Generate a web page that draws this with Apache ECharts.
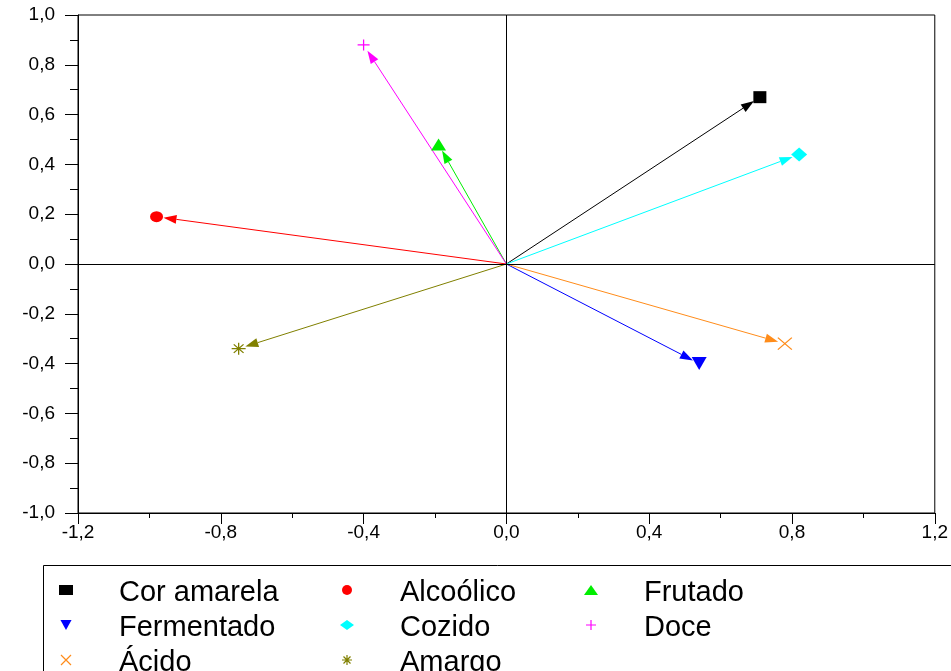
<!DOCTYPE html>
<html>
<head>
<meta charset="utf-8">
<script src="https://cdn.jsdelivr.net/npm/echarts@6/dist/echarts.min.js"></script>
<style>
  html, body { margin: 0; padding: 0; background: #fff; }
  #chart { width: 951px; height: 671px; }
</style>
</head>
<body>
<div id="chart"></div>
<script>
// Loadings of the sensory attributes on the first two principal components
const attributes = ['Cor amarela', 'Alcoólico', 'Frutado', 'Fermentado', 'Cozido', 'Doce', 'Ácido', 'Amargo'];
const comp1 = [0.71, -0.98, -0.19, 0.54, 0.82, -0.40, 0.78, -0.75];
const comp2 = [0.67, 0.19, 0.48, -0.40, 0.44, 0.88, -0.32, -0.34];

// Legend columns (row-major order in the box)
const legendCol1 = ['Cor amarela', 'Fermentado', 'Ácido'];
const legendCol2 = ['Alcoólico', 'Cozido', 'Amargo'];
const legendCol3 = ['Frutado', 'Doce'];

// Axis tick settings
const axisMin = -1.2, axisMax = 1.2, xStep = 0.4;
const yMin = -1.0, yMax = 1.0, yStep = 0.2;

// Marker appearance for each attribute
const styles = {
  'Cor amarela': { color: '#000000', symbol: 'rect', size: [13, 12], filled: true },
  'Alcoólico':   { color: '#ff0000', symbol: 'circle', size: [13, 11], filled: true },
  'Frutado':     { color: '#00ee00', symbol: 'triangle', size: [15, 12], filled: true },
  'Fermentado':  { color: '#0000ff', symbol: 'path://M0,0L10,0L5,9Z', size: [15, 13], filled: true },
  'Cozido':      { color: '#00ffff', symbol: 'diamond', size: [16, 14], filled: true },
  'Doce':        { color: '#ff00ff', symbol: 'path://M0,5L10,5M5,0L5,10', size: [12, 11], filled: false },
  'Ácido':       { color: '#ff8c1a', symbol: 'path://M0,0L10,10M10,0L0,10', size: [14, 12], filled: false },
  'Amargo':      { color: '#808000', symbol: 'path://M5,0L5,10M0,5L10,5M1.5,1.5L8.5,8.5M8.5,1.5L1.5,8.5', size: [14, 12], filled: false }
};

function itemStyleFor(name) {
  const s = styles[name];
  return s.filled
    ? { color: s.color, borderWidth: 0, opacity: 1 }
    : { color: 'rgba(0,0,0,0)', borderColor: s.color, borderWidth: 1.2, opacity: 1 };
}

function fmt(v) {
  const r = Math.abs(v) < 1e-9 ? 0 : v;
  return r.toFixed(1).replace('.', ',');
}

const FONT = 'Arial, "Liberation Sans", sans-serif';

const scatterSeries = attributes.map((name, i) => ({
  name: name,
  type: 'scatter',
  data: [[comp1[i], comp2[i]]],
  symbol: styles[name].symbol,
  symbolSize: styles[name].size,
  itemStyle: itemStyleFor(name),
  z: 5
}));

// Loading vectors from the origin with arrowheads
const vectorData = attributes.map((name, i) => [comp1[i], comp2[i], i]);
const vectorSeries = {
  name: 'vetores',
  type: 'custom',
  coordinateSystem: 'cartesian2d',
  data: vectorData,
  z: 4,
  silent: true,
  renderItem: function (params, api) {
    const idx = api.value(2);
    const color = styles[attributes[idx]].color;
    const p0 = api.coord([0, 0]);
    const p1 = api.coord([api.value(0), api.value(1)]);
    const dx = p1[0] - p0[0], dy = p1[1] - p0[1];
    const len = Math.sqrt(dx * dx + dy * dy);
    const ux = dx / len, uy = dy / len;
    const gap = 7, headLen = 13, headW = 9;
    const tip = [p1[0] - ux * gap, p1[1] - uy * gap];
    const base = [tip[0] - ux * headLen, tip[1] - uy * headLen];
    const px = -uy, py = ux;
    return {
      type: 'group',
      children: [
        {
          type: 'line',
          shape: { x1: p0[0], y1: p0[1], x2: base[0], y2: base[1] },
          style: { stroke: color, lineWidth: 1 }
        },
        {
          type: 'polygon',
          shape: {
            points: [
              tip,
              [base[0] + px * headW / 2, base[1] + py * headW / 2],
              [base[0] - px * headW / 2, base[1] - py * headW / 2]
            ]
          },
          style: { fill: color }
        }
      ]
    };
  }
};

// Reference lines through the origin
const zeroLines = {
  name: 'eixos',
  type: 'scatter',
  data: [],
  silent: true,
  markLine: {
    silent: true,
    symbol: 'none',
    animation: false,
    label: { show: false },
    lineStyle: { color: '#000', width: 1, type: 'solid' },
    emphasis: { disabled: true },
    data: [{ xAxis: 0 }, { yAxis: 0 }]
  }
};

function makeLegend(names, left) {
  return {
    orient: 'vertical',
    left: left,
    top: 573,
    width: 240,
    height: 140,
    padding: 0,
    itemGap: 1,
    itemWidth: 14,
    itemHeight: 10,
    selectedMode: false,
    data: names.map(n => ({
      name: n,
      icon: styles[n].symbol,
      itemStyle: itemStyleFor(n)
    })),
    formatter: n => '{t|' + n + '}',
    textStyle: {
      fontFamily: FONT,
      fontSize: 29,
      color: '#000',
      rich: {
        t: { fontFamily: FONT, fontSize: 29, color: '#000', lineHeight: 35, padding: [5, 0, 0, 41] }
      }
    }
  };
}

const chart = echarts.init(document.getElementById('chart'), null, { renderer: 'canvas' });
chart.setOption({
  animation: false,
  backgroundColor: '#fff',
  grid: {
    left: 78, top: 15, width: 863, height: 498,
    show: true, borderColor: '#000', borderWidth: 1, backgroundColor: 'transparent'
  },
  xAxis: {
    type: 'value',
    min: axisMin, max: axisMax, interval: xStep,
    axisLine: { show: true, onZero: false, lineStyle: { color: '#000', width: 1 } },
    axisTick: { show: true, inside: false, length: 11, lineStyle: { color: '#000', width: 1 } },
    minorTick: { show: true, splitNumber: 2, length: 5, lineStyle: { color: '#000', width: 1 } },
    splitLine: { show: false },
    axisLabel: { formatter: fmt, fontFamily: FONT, fontSize: 19, color: '#000', margin: 10 }
  },
  yAxis: {
    type: 'value',
    min: yMin, max: yMax, interval: yStep,
    axisLine: { show: true, onZero: false, lineStyle: { color: '#000', width: 1 } },
    axisTick: { show: true, inside: false, length: 13, lineStyle: { color: '#000', width: 1 } },
    minorTick: { show: true, splitNumber: 2, length: 8, lineStyle: { color: '#000', width: 1 } },
    splitLine: { show: false },
    axisLabel: { formatter: fmt, fontFamily: FONT, fontSize: 19, color: '#000', margin: 23 }
  },
  legend: [
    makeLegend(legendCol1, 59),
    makeLegend(legendCol2, 340),
    makeLegend(legendCol3, 584)
  ],
  graphic: [
    {
      type: 'rect',
      left: 41, top: 563,
      shape: { width: 930, height: 130 },
      style: { fill: 'none', stroke: '#000', lineWidth: 1 },
      silent: true,
      z: -1
    }
  ],
  series: [zeroLines, vectorSeries].concat(scatterSeries)
});
</script>
</body>
</html>
